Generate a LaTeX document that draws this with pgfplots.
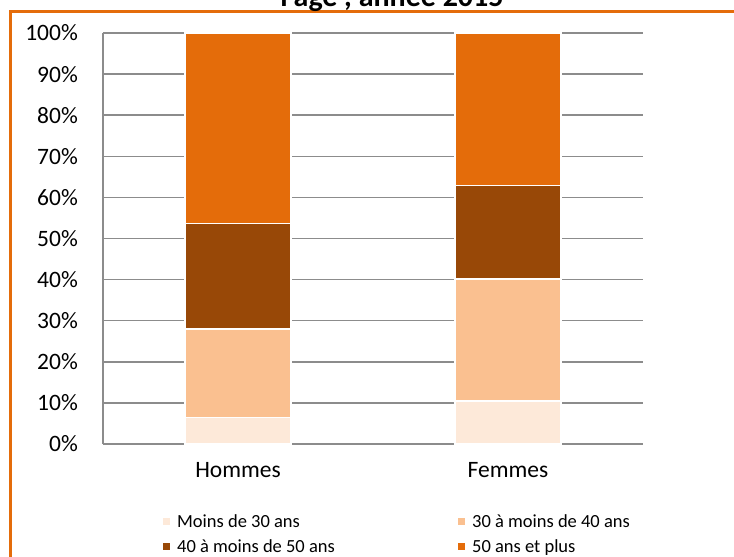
\documentclass[border=0pt]{standalone}
\usepackage{pgfplots}
\pgfplotsset{compat=1.18}
\usepackage{fontspec}
\setmainfont{Carlito}
\definecolor{cA}{HTML}{FDE9D9}
\definecolor{cB}{HTML}{FAC090}
\definecolor{cC}{HTML}{984807}
\definecolor{cD}{HTML}{E46C0A}
\definecolor{gridc}{HTML}{8C8C8C}
\begin{document}
\begin{tikzpicture}
\path[use as bounding box] (-103pt,-113pt) rectangle (631pt,444pt);
\draw[cD, line width=3pt] (-92pt,-140pt) -- (-92pt,432pt) -- (700pt,432pt);
\node[anchor=base, inner sep=0pt, font=\bfseries\fontsize{30}{32}\selectfont] at (289pt,437.5pt) {l'âge , année 2015};
\begin{axis}[
  at={(0pt,0pt)}, anchor=south west,
  scale only axis, width=540pt, height=411pt,
  ybar stacked, bar width=106pt,
  xmin=-0.5, xmax=1.5, ymin=0, ymax=100,
  xtick={0,1}, xticklabels={Hommes,Femmes},
  ytick={0,10,...,100},
  yticklabels={0\%,10\%,20\%,30\%,40\%,50\%,60\%,70\%,80\%,90\%,100\%},
  axis line style={draw=none},
  major tick length=0pt,
  ymajorgrids, grid style={gridc, line width=1.5pt},
  extra x ticks={-0.5}, extra x tick labels={},
  extra x tick style={xmajorgrids=true, major grid style={gridc, line width=1.3pt}},
  tick label style={font=\fontsize{23.5}{26}\selectfont},
  yticklabel style={anchor=east, inner sep=0pt, xshift=-25pt},
  xticklabel style={anchor=north, inner sep=0pt, yshift=-18pt},
  legend columns=2,
  legend style={at={(axis description cs:0.111,-0.168)}, anchor=north west,
    draw=none, fill=none, inner sep=0pt, row sep=9pt,
    font=\fontsize{18.5}{20}\selectfont,
    nodes={inner sep=1pt, anchor=west}},
  every axis plot/.append style={draw=white, line width=1.5pt},
  every axis plot post/.append style={legend image code/.code={\fill[#1, draw=none, line width=0pt] (0pt,-3.5pt) rectangle (7pt,3.5pt); \path[draw=none, fill=none] (0pt,0pt) -- (13pt,0pt);}},
]
\addplot[fill=cA, draw=white] coordinates {(0,6.4) (1,10.5)};
\addlegendentry{\makebox[280pt][l]{Moins de 30 ans}}
\addplot[fill=cB, draw=white] coordinates {(0,21.6) (1,29.6)};
\addlegendentry{30 à moins de 40 ans}
\addplot[fill=cC, draw=white] coordinates {(0,25.7) (1,22.8)};
\addlegendentry{\makebox[280pt][l]{40 à moins de 50 ans}}
\addplot[fill=cD, draw=white] coordinates {(0,46.3) (1,37.1)};
\addlegendentry{50 ans et plus}
\end{axis}
\end{tikzpicture}
\end{document}
